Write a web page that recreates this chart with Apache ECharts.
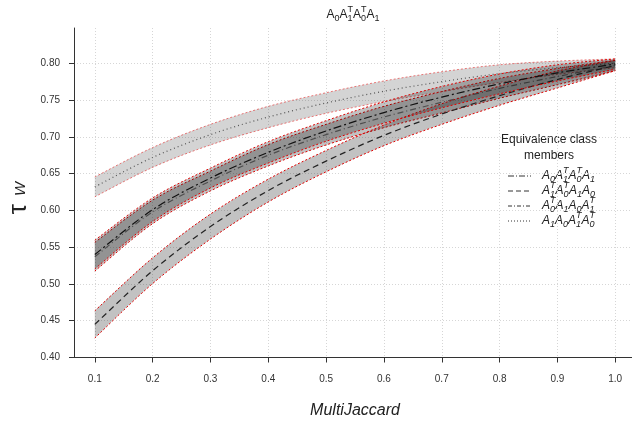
<!DOCTYPE html>
<html><head><meta charset="utf-8">
<script src="https://cdn.jsdelivr.net/npm/echarts@6/dist/echarts.min.js"></script>
<style>html,body{margin:0;padding:0;background:#fff}#c{width:632px;height:423px}</style>
</head><body><div id="c"></div>
<script>
// ---- data ----
const jaccard = [0.1,0.2,0.3,0.4,0.5,0.6,0.7,0.8,0.9,1.0];
const xTicks = [0.1,0.2,0.3,0.4,0.5,0.6,0.7,0.8,0.9,1.0];
const yTicks = [0.40,0.45,0.50,0.55,0.60,0.65,0.70,0.75,0.80];

// A0 A1^T A0^T A1 (dash-dot)
const m1Mid = [0.540,0.601,0.644,0.679,0.708,0.733,0.754,0.772,0.787,0.799];
const m1Lo  = [0.5205,0.585,0.6305,0.6645,0.694,0.7185,0.7395,0.7585,0.776,0.792];
const m1Hi  = [0.5595,0.617,0.6575,0.6935,0.722,0.7475,0.7685,0.7855,0.798,0.806];
// A1^T A0^T A1 A0 (dashed)
const m2Mid = [0.445,0.518,0.578,0.627,0.667,0.702,0.731,0.756,0.778,0.797];
const m2Lo  = [0.4265,0.5005,0.561,0.6115,0.6525,0.688,0.717,0.743,0.7665,0.790];
const m2Hi  = [0.4635,0.5355,0.595,0.6425,0.6815,0.716,0.745,0.769,0.7895,0.804];
// A0^T A1 A0 A1^T (dash-dot)
const m3Mid = [0.537,0.598,0.640,0.675,0.703,0.727,0.747,0.766,0.782,0.797];
const m3Lo  = [0.5175,0.582,0.6265,0.6605,0.689,0.7125,0.7325,0.7525,0.771,0.790];
const m3Hi  = [0.5565,0.614,0.6535,0.6895,0.717,0.7415,0.7615,0.7795,0.793,0.804];
// A1 A0 A1^T A0^T (dotted)
const m4Mid = [0.632,0.672,0.703,0.727,0.746,0.762,0.775,0.786,0.794,0.800];
const m4Lo  = [0.6185,0.6585,0.689,0.7125,0.732,0.748,0.7615,0.774,0.785,0.794];
const m4Hi  = [0.6455,0.6855,0.717,0.7415,0.760,0.776,0.7885,0.798,0.803,0.806];

// label tokens: [base, subscript, superscript]
const titleTokens = [['A','0',''],['A','1','T'],['A','0','T'],['A','1','']];
const legendTitle = ['Equivalence class','members'];
const legendTokens = [
  [['A','0',''],['A','1','T'],['A','0','T'],['A','1','']],
  [['A','1','T'],['A','0','T'],['A','1',''],['A','0','']],
  [['A','0','T'],['A','1',''],['A','0',''],['A','1','T']],
  [['A','1',''],['A','0',''],['A','1','T'],['A','0','T']]
];

// ---- styles ----
const FAM = '"Liberation Sans", Arial, sans-serif';
const members = [
  {mid:m4Mid, lo:m4Lo, hi:m4Hi, fill:'rgba(0,0,0,0.17)', edge:'rgba(225,0,0,0.5)', dash:[1,3], color:'#555'},
  {mid:m3Mid, lo:m3Lo, hi:m3Hi, fill:'rgba(0,0,0,0.24)', edge:'#e00000', dash:[6,3,1,3], color:'#666'},
  {mid:m2Mid, lo:m2Lo, hi:m2Hi, fill:'rgba(0,0,0,0.24)', edge:'#e00000', dash:[6,4], color:'#222'},
  {mid:m1Mid, lo:m1Lo, hi:m1Hi, fill:'rgba(0,0,0,0.24)', edge:'#e00000', dash:[8,3,2,3], color:'#111'}
];
const legendDash = [[6,2,1,2],[5,3],[4,2,1,2],[1,2]];

// Catmull-Rom spline through pixel points -> path commands
function splinePath(pts, start) {
  let d = (start ? 'M' : 'L') + pts[0][0] + ' ' + pts[0][1];
  for (let i = 0; i < pts.length - 1; i++) {
    const p0 = pts[Math.max(i-1,0)], p1 = pts[i], p2 = pts[i+1], p3 = pts[Math.min(i+2, pts.length-1)];
    const c1 = [p1[0] + (p2[0]-p0[0])/6, p1[1] + (p2[1]-p0[1])/6];
    const c2 = [p2[0] - (p3[0]-p1[0])/6, p2[1] - (p3[1]-p1[1])/6];
    d += ' C' + c1[0] + ' ' + c1[1] + ' ' + c2[0] + ' ' + c2[1] + ' ' + p2[0] + ' ' + p2[1];
  }
  return d;
}

const series = [];
members.forEach((m) => {
  series.push({
    type:'custom', silent:true,
    data: jaccard.map((x,i)=>[x, m.lo[i], m.hi[i]]),
    encode:{x:0, y:[1,2]},
    renderItem: function(params, api) {
      if (params.dataIndex !== 0) return null;
      const lo = [], hi = [];
      for (let i = 0; i < jaccard.length; i++) {
        lo.push(api.coord([jaccard[i], m.lo[i]]));
        hi.push(api.coord([jaccard[i], m.hi[i]]));
      }
      const hiRev = hi.slice().reverse();
      const fillD = splinePath(lo, true) + ' ' + splinePath(hiRev, false) + ' Z';
      return {type:'group', children:[
        {type:'path', shape:{pathData:fillD}, style:{fill:m.fill, stroke:null}},
        {type:'path', shape:{pathData:splinePath(lo,true)}, style:{fill:null, stroke:m.edge, lineWidth:1, lineDash:[2,2]}},
        {type:'path', shape:{pathData:splinePath(hi,true)}, style:{fill:null, stroke:m.edge, lineWidth:1, lineDash:[2,2]}}
      ]};
    }
  });
  series.push({
    type:'custom', silent:true,
    data: jaccard.map((x,i)=>[x, m.mid[i]]),
    encode:{x:0, y:1},
    renderItem: function(params, api) {
      if (params.dataIndex !== 0) return null;
      const pts = jaccard.map((x,i)=>api.coord([x, m.mid[i]]));
      return {type:'path', shape:{pathData:splinePath(pts,true)}, style:{fill:null, stroke:m.color, lineWidth:1.2, lineDash:m.dash}};
    }
  });
});

// ---- text helpers ----
const ctx = document.createElement('canvas').getContext('2d');
function tw(t, font){ ctx.font = font; return ctx.measureText(t).width; }
function formula(tokens, x, y, size, italic, align) {
  const st = italic ? 'italic ' : '';
  const bf = st + size + 'px ' + FAM;
  const ss = Math.round(size*0.72);
  const sf = st + ss + 'px ' + FAM;
  let w = 0;
  tokens.forEach(([b,s,p]) => { w += tw(b,bf) + Math.max(s?tw(s,sf):0, p?tw(p,sf):0); });
  let cx = align === 'center' ? x - w/2 : x;
  const els = [];
  tokens.forEach(([b,s,p]) => {
    els.push({type:'text', x:cx, y:y, silent:true, style:{text:b, font:bf, fill:'#222', verticalAlign:'middle', align:'left'}});
    cx += tw(b,bf);
    let ww = 0;
    if (s) { els.push({type:'text', x:cx, y:y+size*0.32, silent:true, style:{text:s, font:sf, fill:'#222', verticalAlign:'middle', align:'left'}}); ww = Math.max(ww, tw(s,sf)); }
    if (p) { els.push({type:'text', x:cx, y:y-size*0.42, silent:true, style:{text:p, font:sf, fill:'#222', verticalAlign:'middle', align:'left'}}); ww = Math.max(ww, tw(p,sf)); }
    cx += ww;
  });
  return els;
}

const graphics = [];
formula(titleTokens, 353, 15, 12, false, 'center').forEach(e=>graphics.push(e));
graphics.push({type:'text', x:549, y:140, silent:true, style:{text:legendTitle[0], font:'12px '+FAM, fill:'#222', align:'center', verticalAlign:'middle'}});
graphics.push({type:'text', x:549, y:156, silent:true, style:{text:legendTitle[1], font:'12px '+FAM, fill:'#222', align:'center', verticalAlign:'middle'}});
const rowsY = [176, 191, 206, 221];
legendTokens.forEach((tk, i) => {
  graphics.push({type:'line', silent:true, shape:{x1:508, y1:rowsY[i], x2:531, y2:rowsY[i]},
    style:{stroke:'#333', lineWidth:1, lineDash:legendDash[i]}});
  formula(tk, 542, rowsY[i], 12, true, 'left').forEach(e=>graphics.push(e));
});
graphics.push({type:'text', x:355, y:411, silent:true, style:{text:'MultiJaccard', font:'italic 16px '+FAM, fill:'#222', align:'center', verticalAlign:'middle'}});
graphics.push({type:'text', x:19, y:209, rotation:Math.PI/2, silent:true, style:{text:'τ', font:'26px '+FAM, fill:'#222', align:'center', verticalAlign:'middle'}});
graphics.push({type:'text', x:21, y:189, rotation:Math.PI/2, silent:true, style:{text:'W', font:'italic 15px '+FAM, fill:'#222', align:'center', verticalAlign:'middle'}});

const chart = echarts.init(document.getElementById('c'), null, {renderer:'canvas'});
chart.setOption({
  animation:false,
  backgroundColor:'#fff',
  grid:{left:74, right:0, top:28, bottom:65.5, containLabel:false, outerBoundsMode:'none'},
  xAxis:{type:'value', min:0.064, max:1.029,
    axisLine:{show:true, onZero:false, lineStyle:{color:'#333', width:1}},
    axisTick:{show:true, length:5, customValues:xTicks, lineStyle:{color:'#333'}},
    axisLabel:{customValues:xTicks, formatter:v=>v.toFixed(1), fontSize:10, color:'#333', margin:17, fontFamily:FAM},
    splitLine:{show:true, lineStyle:{color:'#d6d6d6', width:1, type:[1,2]}}},
  yAxis:{type:'value', min:0.40, max:0.848,
    axisLine:{show:true, onZero:false, lineStyle:{color:'#333', width:1}},
    axisTick:{show:true, length:5, customValues:yTicks, lineStyle:{color:'#333'}},
    axisLabel:{customValues:yTicks, formatter:v=>v.toFixed(2), fontSize:10, color:'#333', margin:14, fontFamily:FAM},
    splitLine:{show:true, lineStyle:{color:'#d6d6d6', width:1, type:[1,2]}}},
  series: series,
  graphic: graphics
});
</script></body></html>
